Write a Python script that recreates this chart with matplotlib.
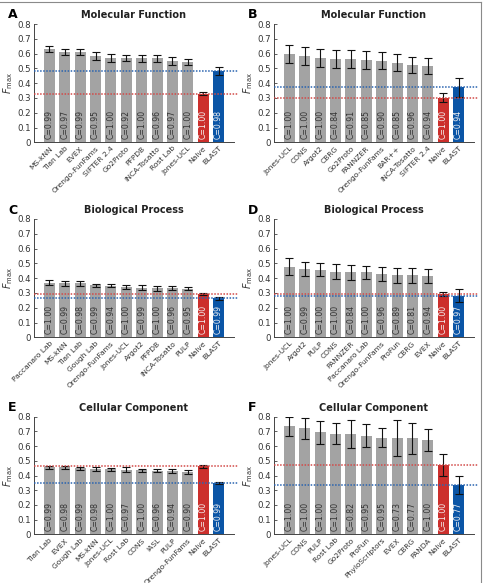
import matplotlib.pyplot as plt
import numpy as np
from matplotlib.lines import Line2D

#------------DATA--------------------------
mfo_a_methods = ["MS-kNN", "Tian Lab", "EVEX", "Orengo-FunFams", "SIFTER 2.4", "Go2Proto",
                 "PFPDB", "INCA-Tosatto", "Rost Lab", "Jones-UCL", "Naive", "BLAST"]
mfo_a_fmax = [0.628, 0.612, 0.610, 0.583, 0.569, 0.569, 0.567, 0.567, 0.549, 0.544, 0.329, 0.483]
mfo_a_err = [0.020, 0.022, 0.022, 0.025, 0.025, 0.022, 0.022, 0.025, 0.027, 0.022, 0.010, 0.025]
mfo_a_cov = ["0.99", "0.97", "0.99", "0.95", "1.00", "0.92", "1.00", "0.96", "0.97", "1.00", "1.00", "0.98"]

mfo_b_methods = ["Jones-UCL", "CONS", "Argot2", "CBRG", "Go2Proto", "PANNZER",
                 "Orengo-FunFams", "BAR++", "INCA-Tosatto", "SIFTER 2.4", "Naive", "BLAST"]
mfo_b_fmax = [0.597, 0.584, 0.570, 0.561, 0.561, 0.557, 0.552, 0.539, 0.525, 0.516, 0.302, 0.372]
mfo_b_err = [0.060, 0.060, 0.060, 0.060, 0.060, 0.060, 0.058, 0.060, 0.055, 0.055, 0.030, 0.065]
mfo_b_cov = ["1.00", "1.00", "1.00", "0.84", "0.91", "0.85", "0.90", "0.85", "0.96", "0.94", "1.00", "0.94"]

bpo_c_methods = ["Paccanaro Lab", "MS-kNN", "Tian Lab", "Gough Lab", "Orengo-FunFams", "Jones-UCL",
                 "Argot2", "PFPDB", "INCA-Tosatto", "PULP", "Naive", "BLAST"]
bpo_c_fmax = [0.370, 0.365, 0.365, 0.352, 0.350, 0.340, 0.336, 0.331, 0.331, 0.327, 0.293, 0.264]
bpo_c_err = [0.015, 0.015, 0.017, 0.010, 0.013, 0.015, 0.015, 0.015, 0.013, 0.010, 0.005, 0.010]
bpo_c_cov = ["1.00", "0.99", "0.98", "0.99", "0.94", "1.00", "0.99", "1.00", "0.96", "0.95", "1.00", "0.99"]

bpo_d_methods = ["Jones-UCL", "Argot2", "PULP", "CONS", "PANNZER", "Paccanaro Lab",
                 "Orengo-FunFams", "ProFun", "CBRG", "EVEX", "Naive", "BLAST"]
bpo_d_fmax = [0.478, 0.462, 0.457, 0.444, 0.440, 0.440, 0.428, 0.420, 0.420, 0.417, 0.293, 0.282]
bpo_d_err = [0.055, 0.050, 0.045, 0.050, 0.050, 0.045, 0.045, 0.050, 0.050, 0.048, 0.015, 0.045]
bpo_d_cov = ["1.00", "0.99", "1.00", "1.00", "0.84", "1.00", "0.96", "0.89", "0.81", "0.94", "1.00", "0.97"]

cco_e_methods = ["Tian Lab", "EVEX", "Gough Lab", "MS-kNN", "Jones-UCL", "Rost Lab",
                 "CONS", "IASL", "PULP", "Orengo-FunFams", "Naive", "BLAST"]
cco_e_fmax = [0.456, 0.456, 0.449, 0.447, 0.442, 0.440, 0.435, 0.433, 0.431, 0.424, 0.463, 0.349]
cco_e_err = [0.012, 0.012, 0.012, 0.013, 0.012, 0.015, 0.012, 0.012, 0.012, 0.012, 0.010, 0.010]
cco_e_cov = ["0.99", "0.98", "0.99", "0.98", "1.00", "0.97", "1.00", "0.96", "0.94", "0.90", "1.00", "0.99"]

cco_f_methods = ["Jones-UCL", "CONS", "PULP", "Rost Lab", "Go2Proto", "ProFun",
                 "PhyloScriptors", "EVEX", "CBRG", "PANDA", "Naive", "BLAST"]
cco_f_fmax = [0.735, 0.721, 0.694, 0.683, 0.683, 0.671, 0.658, 0.655, 0.653, 0.644, 0.472, 0.336]
cco_f_err = [0.065, 0.070, 0.080, 0.072, 0.095, 0.080, 0.062, 0.120, 0.105, 0.075, 0.075, 0.060]
cco_f_cov = ["1.00", "1.00", "1.00", "1.00", "0.82", "0.95", "0.95", "0.73", "0.77", "1.00", "1.00", "0.77"]

panels = [
    ("A", "Molecular Function", mfo_a_methods, mfo_a_fmax, mfo_a_err, mfo_a_cov),
    ("B", "Molecular Function", mfo_b_methods, mfo_b_fmax, mfo_b_err, mfo_b_cov),
    ("C", "Biological Process", bpo_c_methods, bpo_c_fmax, bpo_c_err, bpo_c_cov),
    ("D", "Biological Process", bpo_d_methods, bpo_d_fmax, bpo_d_err, bpo_d_cov),
    ("E", "Cellular Component", cco_e_methods, cco_e_fmax, cco_e_err, cco_e_cov),
    ("F", "Cellular Component", cco_f_methods, cco_f_fmax, cco_f_err, cco_f_cov),
]

#------------STYLE--------------------------
W, H = 485, 583
gray = "#a3a3a3"
red = "#cc2f2c"
blue = "#0b55a6"
red_line = "#d24a48"
blue_line = "#2a64b0"
txt = "#333333"

plt.rcParams["font.family"] = "DejaVu Sans"

fig = plt.figure(figsize=(W / 100, H / 100), dpi=100)

col_left = [34, 274]
row_top = [24, 219, 416.7]
row_bottom = [142.3, 337.3, 534.3]
ax_w = 200

for i, (letter, title, methods, fmax, err, cov) in enumerate(panels):
    r, c = divmod(i, 2)
    left = col_left[c] / W
    bottom = 1 - row_bottom[r] / H
    height = (row_bottom[r] - row_top[r]) / H
    ax = fig.add_axes([left, bottom, ax_w / W, height])

    x = np.arange(len(methods))
    colors = [gray] * (len(methods) - 2) + [red, blue]
    ax.bar(x, fmax, width=0.72, color=colors, zorder=2)
    ax.errorbar(x, fmax, yerr=err, fmt="none", ecolor="#111111", elinewidth=0.8,
                capsize=2.8, capthick=0.8, zorder=3)

    # naive and blast reference lines
    ax.plot([-1, 12.25], [fmax[-2]] * 2, linestyle=(0, (1, 1)), color=red_line, lw=1.1,
            clip_on=False, zorder=4)
    ax.plot([-1, 12.25], [fmax[-1]] * 2, linestyle=(0, (1, 1)), color=blue_line, lw=1.1,
            clip_on=False, zorder=4)

    for j, cv in enumerate(cov):
        tc = txt if j < len(cov) - 2 else "#f4f4f4"
        ax.text(x[j], 0.025, "C=" + cv, rotation=90, ha="center", va="bottom",
                fontsize=5.6, color=tc, zorder=5)

    ax.set_xlim(-1, 12)
    ax.set_ylim(0, 0.8)
    ax.set_yticks(np.arange(0, 0.81, 0.1))
    ax.set_yticklabels(["0"] + [f"{v:.1f}" for v in np.arange(0.1, 0.81, 0.1)])
    ax.set_xticks(x)
    ax.set_xticklabels(methods, rotation=45, ha="right", rotation_mode="anchor", fontsize=5.4,
                       color=txt)
    ax.tick_params(axis="y", direction="in", length=2, labelsize=6.2, labelcolor=txt,
                   color="#444444", width=0.6, pad=2)
    ax.tick_params(axis="x", direction="in", length=2, color="#444444", width=0.6, pad=2)
    for s in ["top", "right"]:
        ax.spines[s].set_visible(False)
    for s in ["left", "bottom"]:
        ax.spines[s].set_color("#444444")
        ax.spines[s].set_linewidth(0.7)

    ax.set_ylabel(r"$F_{\mathrm{max}}$", fontsize=7, color=txt, labelpad=2)
    ax.set_title(title, fontsize=7, fontweight="bold", color="#222222", pad=4)
    fig.text((col_left[c] - 26) / W, 1 - (row_top[r] - 9) / H, letter, fontsize=9,
             fontweight="bold", ha="left", va="center")

# outer frame (top and right edges visible in the source)
fig.add_artist(Line2D([0, 481 / W], [1 - 2 / H, 1 - 2 / H], color="#8a8a8a", lw=0.8))
fig.add_artist(Line2D([481 / W, 481 / W], [0, 1 - 2 / H], color="#8a8a8a", lw=0.8))

fig.savefig("out.png", dpi=100)
